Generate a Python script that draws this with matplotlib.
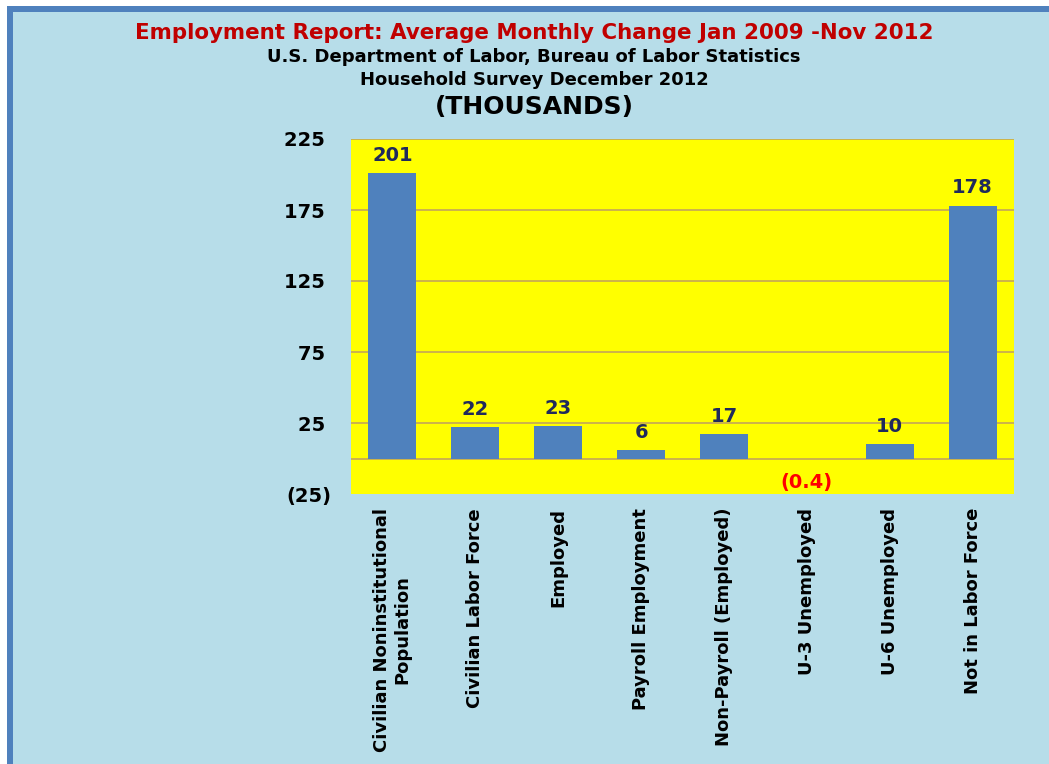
import matplotlib
matplotlib.use("Agg")
import matplotlib.pyplot as plt
from matplotlib.patches import Rectangle

# Average monthly change, Jan 2009 - Nov 2012 (thousands)
categories = [
    "Civilian Noninstitutional\nPopulation",
    "Civilian Labor Force",
    "Employed",
    "Payroll Employment",
    "Non-Payroll (Employed)",
    "U-3 Unemployed",
    "U-6 Unemployed",
    "Not in Labor Force",
]
values = [201, 22, 23, 6, 17, -0.4, 10, 178]
value_labels = ["201", "22", "23", "6", "17", "(0.4)", "10", "178"]
y_ticks = [-25, 25, 75, 125, 175, 225]
y_tick_labels = ["(25)", "25 ", "75 ", "125 ", "175 ", "225 "]

title = "Employment Report: Average Monthly Change Jan 2009 -Nov 2012"
subtitle1 = "U.S. Department of Labor, Bureau of Labor Statistics"
subtitle2 = "Household Survey December 2012"
units = "(THOUSANDS)"

BG = "#B7DDE9"
PLOT_BG = "#FFFF00"
BAR = "#4F81BD"
GRID = "#C4A65A"
LABEL = "#1F2A5C"
FONT = "DejaVu Sans"

W, H = 1049, 764
fig = plt.figure(figsize=(W / 100, H / 100), dpi=100)
fig.patch.set_facecolor("white")

# background panel with blue frame on top and left
fig.patches.append(Rectangle((7 / W, 0), 1 - 7 / W, 1 - 6 / H, transform=fig.transFigure,
                             facecolor=BAR, edgecolor="none", zorder=-10))
fig.patches.append(Rectangle((13 / W, 0), 1 - 13 / W, 1 - 12 / H, transform=fig.transFigure,
                             facecolor=BG, edgecolor="none", zorder=-9))

ax = fig.add_axes([351 / W, 1 - 494 / H, 663 / W, 355 / H])
ax.set_facecolor(PLOT_BG)

x = list(range(len(categories)))
ax.bar(x, values, width=0.58, color=BAR, zorder=3)

ax.set_ylim(-25, 225)
ax.set_xlim(-0.5, len(categories) - 0.5)
for v in y_ticks[1:]:
    ax.axhline(v, color=GRID, lw=1.2, zorder=1)
ax.axhline(0, color=GRID, lw=1.2, zorder=2)

for s in ax.spines.values():
    s.set_visible(False)

ax.set_yticks(y_ticks)
ax.set_yticklabels(y_tick_labels, fontsize=14, fontweight="bold", family=FONT)
ax.set_xticks(x)
ax.set_xticklabels(categories, rotation=90, fontsize=13, fontweight="bold",
                   family=FONT, va="top", ha="center", multialignment="center")
ax.tick_params(axis="y", length=0, pad=14)
ax.tick_params(axis="x", length=0, pad=10)

for xi, v, lab in zip(x, values, value_labels):
    if v >= 0:
        ax.annotate(lab, (xi, v), xytext=(0, 6), textcoords="offset points",
                    ha="center", va="bottom", fontsize=14, fontweight="bold",
                    color=LABEL, family=FONT, zorder=4)
    else:
        ax.annotate(lab, (xi, v), xytext=(0, -10), textcoords="offset points",
                    ha="center", va="top", fontsize=14, fontweight="bold",
                    color="#FF0000", family=FONT, zorder=4)

cx = 534 / W
fig.text(cx, 1 - 33 / H, title, ha="center", va="center", fontsize=15.4,
         fontweight="bold", color="#C00000", family=FONT)
fig.text(cx, 1 - 57 / H, subtitle1, ha="center", va="center", fontsize=13,
         fontweight="bold", color="black", family=FONT)
fig.text(cx, 1 - 80 / H, subtitle2, ha="center", va="center", fontsize=13,
         fontweight="bold", color="black", family=FONT)
fig.text(cx, 1 - 107 / H, units, ha="center", va="center", fontsize=18,
         fontweight="bold", color="black", family=FONT)

fig.savefig("out.png", dpi=100, facecolor=fig.get_facecolor())
